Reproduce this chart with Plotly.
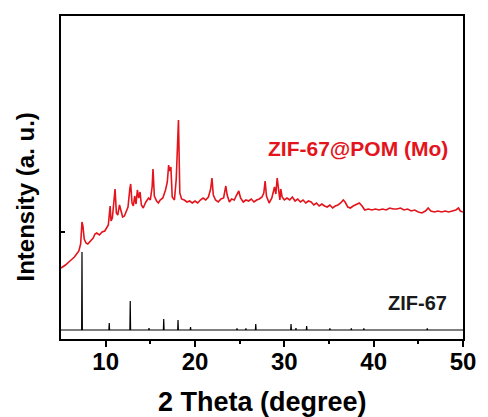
import plotly.graph_objects as go

# ZIF-67@POM (Mo) measured pattern (2theta, intensity a.u.)
pom_theta = [5.0, 5.5, 6.0, 6.5, 7.0, 7.2, 7.35, 7.45, 7.6, 7.8, 8.0, 8.3, 8.6, 8.8, 9.0, 9.3, 9.6, 9.9,
             10.1, 10.3, 10.5, 10.6, 10.75, 10.9, 11.05, 11.2, 11.35, 11.55, 11.7, 11.9, 12.1, 12.3, 12.5,
             12.7, 12.8, 12.95, 13.1, 13.25, 13.4, 13.55, 13.7, 13.85, 14.0, 14.2, 14.5, 14.8, 15.0, 15.2,
             15.3, 15.45, 15.7, 15.9, 16.1, 16.4, 16.7, 16.9, 17.05, 17.15, 17.3, 17.45, 17.7, 17.9, 18.0,
             18.15, 18.3, 18.5, 18.8, 19.1, 19.4, 19.7, 20.0, 20.3, 20.6, 20.9, 21.2, 21.5, 21.75, 21.9,
             22.05, 22.3, 22.6, 22.9, 23.2, 23.45, 23.6, 23.85, 24.1, 24.4, 24.6, 24.9, 25.1, 25.4, 25.7,
             26.0, 26.3, 26.6, 26.9, 27.2, 27.5, 27.7, 27.85, 28.0, 28.3, 28.6, 28.9, 29.05, 29.2, 29.35,
             29.5, 29.6, 29.75, 30.0, 30.3, 30.6, 30.9, 31.2, 31.5, 31.8, 32.1, 32.4, 32.7, 33.0, 33.3,
             33.6, 33.9, 34.2, 34.5, 34.8, 35.1, 35.4, 35.7, 36.0, 36.3, 36.6, 36.8, 37.1, 37.4, 37.7,
             38.0, 38.4, 38.7, 39.0, 39.4, 39.8, 40.2, 40.6, 41.0, 41.4, 41.8, 42.2, 42.6, 43.0, 43.4,
             43.8, 44.2, 44.6, 45.0, 45.4, 45.8, 46.1, 46.4, 46.8, 47.2, 47.6, 48.0, 48.4, 48.8, 49.2,
             49.5, 49.7, 50.0]
pom_int = [71, 74, 78, 82, 88, 95, 117, 113, 100, 96, 95, 98, 101, 105, 106, 104, 107, 108,
           111, 114, 133, 118, 121, 134, 150, 126, 124, 134, 128, 122, 123, 127, 132,
           150, 155, 136, 133, 143, 135, 149, 141, 147, 134, 131, 137, 141, 139, 152,
           170, 143, 138, 136, 139, 141, 149, 157, 174, 168, 172, 142, 139, 160, 184,
           219, 146, 140, 139, 137, 138, 136, 138, 136, 139, 141, 139, 142, 150, 161,
           144, 139, 137, 140, 141, 153, 144, 137, 140, 139, 143, 148, 141, 137, 139,
           138, 140, 137, 139, 140, 142, 146, 158, 143, 136, 141, 152, 145, 161, 147,
           139, 150, 142, 139, 141, 139, 142, 138, 140, 137, 139, 136, 138, 137, 134,
           136, 133, 135, 133, 132, 134, 131, 133, 134, 136, 139, 137, 132, 131, 133,
           134, 136, 133, 129, 130, 129, 130, 129, 130, 129, 131, 130, 130, 131, 129,
           130, 128, 129, 127, 126, 128, 131, 128, 127, 128, 127, 128, 127, 128, 129,
           131, 128, 127]

# ZIF-67 simulated reference peaks
zif_theta = [7.35, 10.4, 12.75, 14.85, 16.5, 18.1, 19.5, 24.7, 25.7, 26.8, 30.75, 31.3, 32.5, 35.1, 37.5, 38.9, 46.0]
zif_int = [87, 16, 38, 11, 20, 19, 12, 10.5, 10.5, 15, 15, 11, 13, 10.5, 10.5, 10.5, 10.5]
zif_base = 9

x_range = [5, 50]
y_range = [0, 323]
x_ticks = [10, 20, 30, 40, 50]

# build stick pattern on baseline
stick_x = [x_range[0]]
stick_y = [zif_base]
for t, h in zip(zif_theta, zif_int):
    stick_x += [t - 0.04, t, t + 0.04]
    stick_y += [zif_base, h, zif_base]
stick_x.append(x_range[1])
stick_y.append(zif_base)

font_fam = "Arial, Liberation Sans, sans-serif"

fig = go.Figure()
fig.add_trace(go.Scatter(x=stick_x, y=stick_y, mode="lines",
                         line=dict(color="black", width=1.2), showlegend=False))
fig.add_trace(go.Scatter(x=pom_theta, y=pom_int, mode="lines",
                         line=dict(color="#e3141b", width=1.6), showlegend=False))

fig.add_annotation(x=38.2, y=191, text="<b>ZIF-67@POM (Mo)</b>", showarrow=False,
                   font=dict(family=font_fam, size=21, color="#e3141b"))
fig.add_annotation(x=44.9, y=36, text="<b>ZIF-67</b>", showarrow=False,
                   font=dict(family=font_fam, size=20, color="#1a1a1a"))
fig.add_annotation(xref="paper", yref="paper", x=-0.088, y=0.44, text="<b>Intensity (a. u.)</b>",
                   textangle=-90, showarrow=False, xanchor="center", yanchor="middle",
                   font=dict(family=font_fam, size=24, color="black"))
fig.add_annotation(xref="paper", yref="paper", x=0.5, y=-0.195, text="<b>2 Theta (degree)</b>",
                   showarrow=False, xanchor="center", yanchor="middle",
                   font=dict(family=font_fam, size=27, color="black"))

fig.update_layout(
    width=488, height=417,
    margin=dict(l=61, r=19, t=16, b=78),
    paper_bgcolor="white", plot_bgcolor="white",
    font=dict(family=font_fam, color="black"),
    xaxis=dict(range=x_range, tickvals=x_ticks, ticktext=[f"<b>{v}</b>" for v in x_ticks],
               ticks="outside", ticklen=6, tickwidth=2, tickcolor="black",
               minor=dict(tickvals=[15, 25, 35, 45], ticks="outside", ticklen=3, tickwidth=2, tickcolor="black"),
               showline=True, linecolor="black", linewidth=2, mirror=True, showgrid=False, zeroline=False,
               tickfont=dict(size=24, family=font_fam), ticklabelstandoff=-6),
    yaxis=dict(range=y_range, tickvals=[107], showticklabels=False,
               ticks="inside", ticklen=4, tickwidth=1.5, tickcolor="black",
               showline=True, linecolor="black", linewidth=2, mirror=True, showgrid=False, zeroline=False),
)

fig.write_html("out.html")
